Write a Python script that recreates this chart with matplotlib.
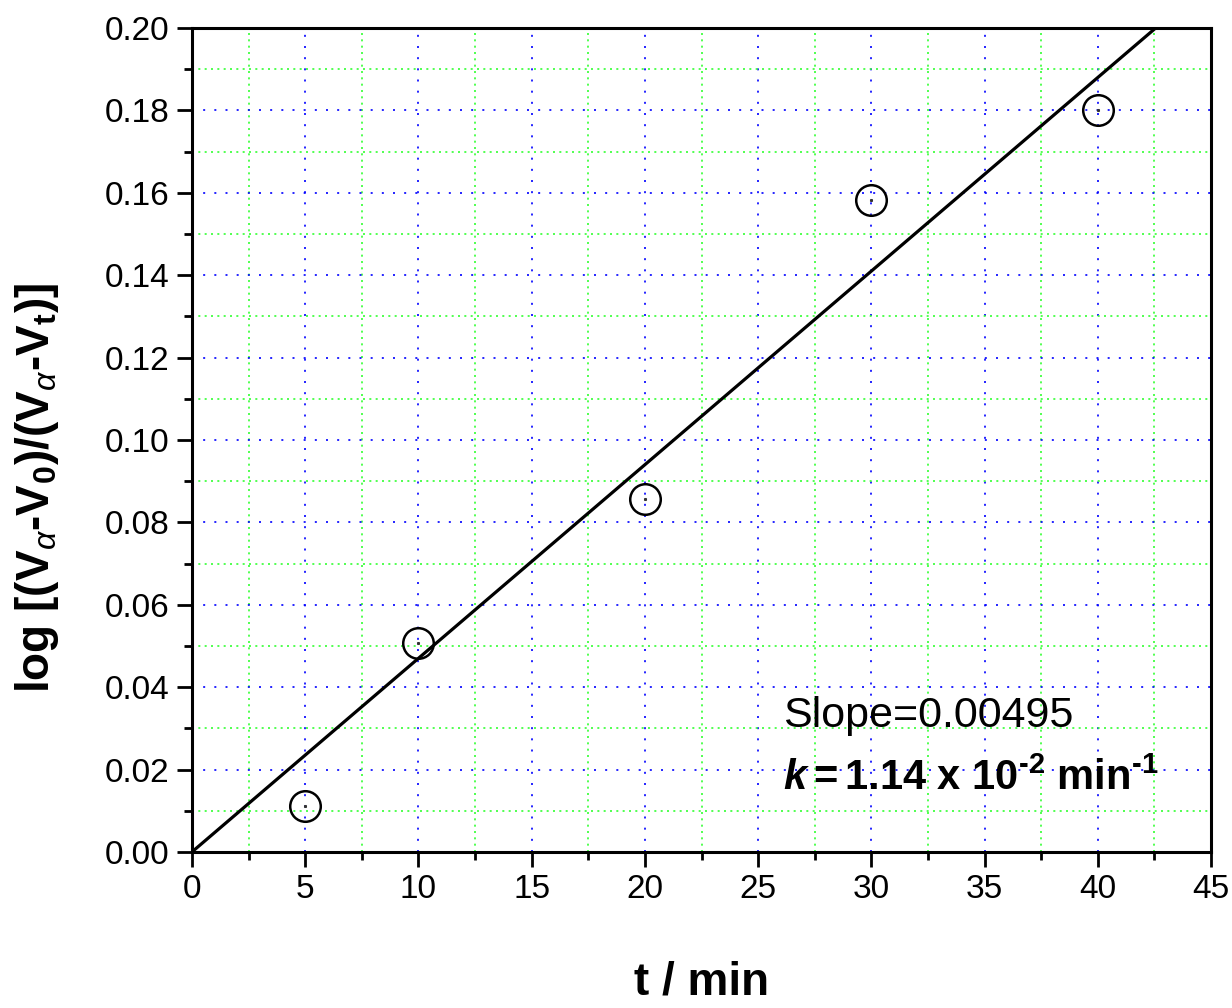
import numpy as np
import matplotlib
matplotlib.use("Agg")
import matplotlib.pyplot as plt
from matplotlib.ticker import MultipleLocator, FormatStrFormatter

plt.rcParams['font.family'] = ['Liberation Sans', 'DejaVu Sans']
plt.rcParams['mathtext.fontset'] = 'custom'
plt.rcParams['mathtext.rm'] = 'Liberation Sans'
plt.rcParams['mathtext.it'] = 'Liberation Sans:italic'
plt.rcParams['mathtext.bf'] = 'Liberation Sans:bold'
plt.rcParams['mathtext.bfit'] = 'Liberation Sans:italic:bold'

# measured points
t_min = [5, 10, 20, 30, 40]
log_ratio = [0.0112, 0.0508, 0.0857, 0.1583, 0.1801]

# fitted line through origin (as drawn)
fit_slope = 0.0047
fit_t = np.array([0, 45])

fig = plt.figure(figsize=(12.32, 10.08), dpi=100)
ax = fig.add_axes([0.1558, 0.1548, 0.8272, 0.8174])

ax.plot(fit_t, fit_slope * fit_t, color='black', lw=2.3, zorder=3)
ax.plot(t_min, log_ratio, 'o', ms=22, mfc='none', mec='black', mew=1.8, zorder=4)
ax.plot(t_min, log_ratio, 's', ms=1.2, color='#333333', zorder=4)

ax.set_xlim(0, 45)
ax.set_ylim(0, 0.20)
ax.xaxis.set_major_locator(MultipleLocator(5))
ax.xaxis.set_minor_locator(MultipleLocator(2.5))
ax.yaxis.set_major_locator(MultipleLocator(0.02))
ax.yaxis.set_minor_locator(MultipleLocator(0.01))
ax.yaxis.set_major_formatter(FormatStrFormatter('%.2f'))

ax.grid(which='major', color='#0000ff', linestyle=(0, (1.2, 5.5)), lw=1.2)
ax.grid(which='minor', color='#33ff33', linestyle=(0, (1.2, 2.6)), lw=1.2)
ax.set_axisbelow(True)

for sp in ax.spines.values():
    sp.set_linewidth(2.2)
ax.tick_params(which='major', direction='out', length=11, width=2.0, labelsize=24, pad=5)
ax.tick_params(which='minor', direction='out', length=6, width=2.0)

ax.set_xlabel('t / min', fontsize=33, fontweight='bold', labelpad=40)
ax.set_ylabel(r'log [(V$_\alpha$-V$_\mathbf{0}$)/(V$_\alpha$-V$_\mathbf{t}$)]',
              fontsize=33, fontweight='bold')
ax.yaxis.set_label_coords(-0.128, 0.442)

ax.text(26.1, 0.0303, 'Slope=0.00495', fontsize=31, va='baseline', ha='left')
ax.text(26.1, 0.0150,
        r'$\mathbfit{k}\mathbf{=1.14\ x\ 10^{‐2}\ min^{‐1}}$',
        fontsize=30, va='baseline', ha='left')

fig.savefig('out.png', dpi=100)
